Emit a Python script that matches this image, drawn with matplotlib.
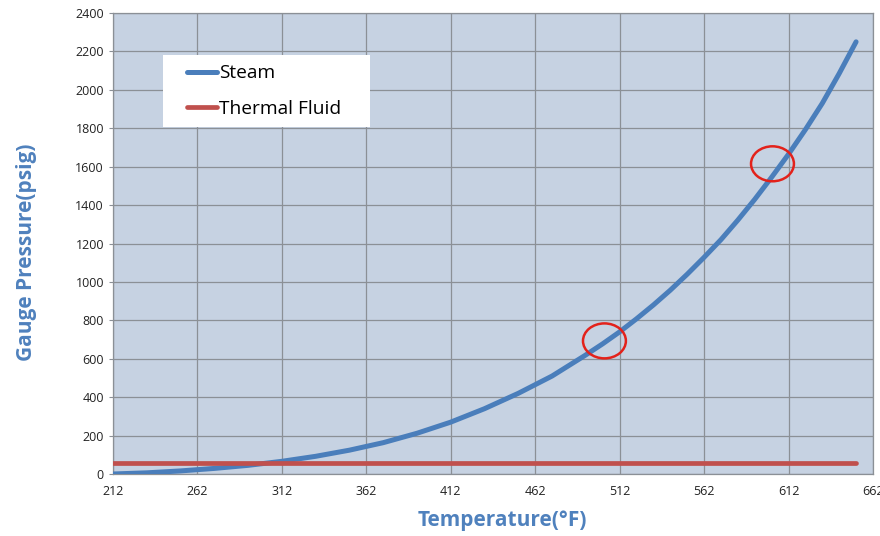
import matplotlib.pyplot as plt
from matplotlib.patches import Ellipse, Rectangle

# saturated steam, gauge pressure
temp_f = [212, 232, 252, 272, 292, 312, 332, 352, 372, 392, 412, 432,
          452, 472, 492, 502, 512, 522, 532, 542, 552, 562, 572, 582,
          592, 602, 612, 622, 632, 642, 652]
steam_psig = [0, 6, 16, 29, 45, 66, 92, 124, 163, 212, 270, 340,
              420, 510, 620, 678, 740, 808, 880, 957, 1040, 1128, 1220, 1322,
              1430, 1545, 1665, 1793, 1930, 2085, 2250]

fluid_temp = [212, 652]
fluid_psig = [55, 55]

# highlighted points (centre temp, centre psig)
circle_x = [503, 602.5]
circle_y = [693, 1615]

x_ticks = [212, 262, 312, 362, 412, 462, 512, 562, 612, 662]
y_ticks = list(range(0, 2401, 200))

plt.rcParams['font.family'] = ['Open Sans', 'DejaVu Sans']

fig = plt.figure(figsize=(8.8, 5.36), dpi=100)
ax = fig.add_axes([0.1284, 0.1157, 0.8636, 0.8600])
ax.set_facecolor('#c6d2e2')

ax.plot(temp_f, steam_psig, color='#4a7ebb', linewidth=3.6, label='Steam',
        solid_capstyle='round', solid_joinstyle='round', zorder=3)
ax.plot(fluid_temp, fluid_psig, color='#c0504d', linewidth=3.4, label='Thermal Fluid',
        solid_capstyle='round', zorder=3)

for cx, cy in zip(circle_x, circle_y):
    ax.add_patch(Ellipse((cx, cy), 25.4, 182, fill=False, edgecolor='#e3221b',
                         linewidth=1.8, zorder=4))

ax.set_xlim(212, 662)
ax.set_ylim(0, 2400)
ax.set_xticks(x_ticks)
ax.set_yticks(y_ticks)
ax.grid(True, color='#8b9096', linewidth=0.9)
ax.set_axisbelow(True)
for s in ax.spines.values():
    s.set_color('#8b9096')
    s.set_linewidth(0.9)
ax.tick_params(axis='both', labelsize=9, colors='#222222', length=3, color='#8b9096')
ax.tick_params(axis='x', length=0, pad=8)

ax.set_xlabel('Temperature(°F)', fontsize=15, fontweight='bold', color='#4f81bd')
ax.set_ylabel('Gauge Pressure(psig)', fontsize=15, fontweight='bold', color='#4f81bd')
ax.xaxis.set_label_coords(0.512, -0.078)
ax.yaxis.set_label_coords(-0.100, 0.48)

# white legend box, wider than tall padding like the original
ax.add_patch(Rectangle((0.066, 0.753), 0.272, 0.156, transform=ax.transAxes,
                       facecolor='white', edgecolor='none', zorder=5))
leg = ax.legend(loc='center left', bbox_to_anchor=(0.097, 0.831), fontsize=13.8,
                frameon=False, handlelength=1.6, handletextpad=0.1,
                borderpad=0, labelspacing=0.9, borderaxespad=0)
leg.set_zorder(6)

fig.savefig('out.png', dpi=100)
